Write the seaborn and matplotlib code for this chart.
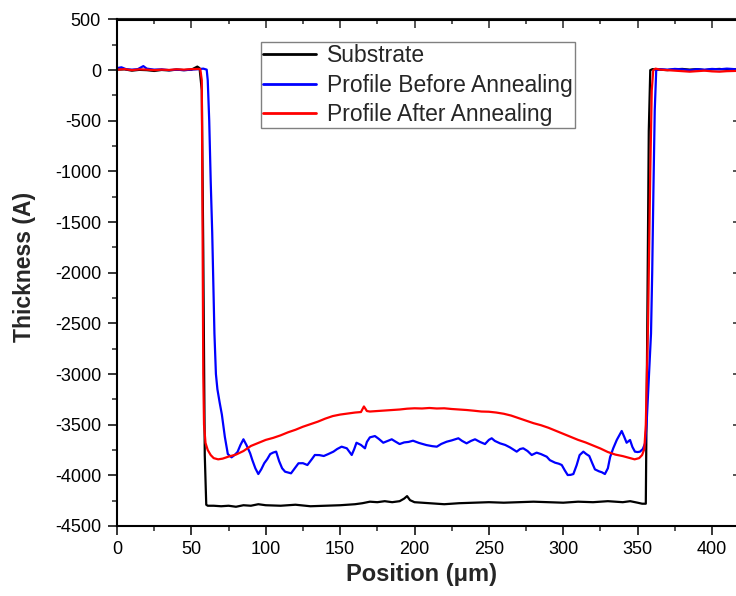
import numpy as np
import pandas as pd
import matplotlib
matplotlib.use("Agg")
import matplotlib.pyplot as plt
import seaborn as sns
from matplotlib.ticker import MultipleLocator

# ---------------- data ----------------
sub_x = [0, 5, 10, 15, 20, 25, 30, 35, 40, 45, 50, 54, 55.5, 57, 58, 59, 60, 61, 65, 70, 75, 80, 85, 90,
         95, 100, 110, 120, 130, 140, 150, 160, 165, 170, 175, 180, 185, 190, 193, 195, 197, 200, 210, 220,
         230, 240, 250, 260, 270, 280, 290, 300, 310, 320, 330, 335, 340, 345, 350, 353, 355.5, 356.5,
         357.5, 358.5, 360, 365, 370, 375, 380, 385, 390, 395, 400, 405, 410, 415, 420]
sub_y = [5, 8, -5, 3, 0, -8, 2, -3, 5, 0, 5, 35, 20, -200, -1800, -3800, -4290, -4300, -4300, -4305,
         -4300, -4310, -4295, -4300, -4285, -4295, -4300, -4290, -4305, -4300, -4295, -4285, -4275, -4260,
         -4265, -4255, -4265, -4255, -4230, -4205, -4245, -4265, -4275, -4285, -4275, -4270, -4265, -4270,
         -4265, -4260, -4265, -4270, -4260, -4265, -4255, -4260, -4265, -4255, -4270, -4280, -4280, -2500,
         -600, 0, 10, 5, 0, 8, 12, 5, 10, 0, 8, 12, 5, 10, 8]

before_x = [0, 3, 6, 10, 14, 17.7, 20, 25, 30, 35, 40, 45, 50, 55, 58, 60.3, 61, 62, 63, 64, 65, 65.5,
            66.5, 67.5, 69, 70.5, 72.5, 74.5, 77, 79, 81, 83, 85, 87, 89.5, 91, 93, 95, 97, 99, 101, 103,
            105, 107, 109, 111, 113, 117, 120, 122, 125, 128, 131, 133, 136, 139, 142, 145.5, 148, 151,
            154.5, 157.8, 159.5, 161, 164, 166.7, 168, 170, 173.4, 176, 179, 182, 184.7, 187, 190, 193,
            196, 199, 203, 208, 212, 215, 218, 221.6, 225, 229.5, 232, 235, 238, 240.7, 244, 247.4, 250,
            251.9, 254, 257.5, 261, 264.2, 266.5, 268.7, 271, 273.1, 276, 278.8, 282.1, 285, 288.9, 291,
            294.5, 297, 299, 301, 303, 305, 306.8, 309, 311, 313.5, 315.5, 317.5, 319.5, 321.3, 324, 326,
            328, 330, 331.5, 333.6, 336, 339.3, 341, 342.6, 344.9, 346.5, 348.2, 350, 351.6, 353.5, 355,
            356, 357, 358, 359, 359.8, 360.6, 361.5, 362.5, 365, 370, 375, 380, 385, 390, 395, 400, 405,
            410, 415, 420]
before_y = [20, 28, 10, 5, 10, 40, 15, 5, 8, 0, 5, 0, 5, 10, 15, 5, -100, -500, -1100, -1600, -2300,
            -2600, -3000, -3150, -3280, -3400, -3620, -3790, -3822, -3800, -3770, -3700, -3644, -3700,
            -3782, -3850, -3930, -3987, -3940, -3880, -3840, -3790, -3775, -3766, -3860, -3930, -3964,
            -3980, -3920, -3881, -3880, -3898, -3840, -3799, -3800, -3809, -3790, -3766, -3740, -3717,
            -3733, -3799, -3740, -3678, -3700, -3733, -3670, -3625, -3612, -3640, -3678, -3660, -3644,
            -3665, -3691, -3675, -3670, -3658, -3680, -3701, -3712, -3717, -3690, -3668, -3655, -3634,
            -3660, -3684, -3660, -3644, -3670, -3691, -3650, -3634, -3660, -3684, -3700, -3724, -3745,
            -3766, -3740, -3733, -3760, -3799, -3776, -3790, -3816, -3850, -3875, -3885, -3898, -3950,
            -3997, -3995, -3987, -3900, -3800, -3766, -3790, -3809, -3880, -3941, -3960, -3970, -3987,
            -3930, -3820, -3733, -3650, -3562, -3620, -3678, -3651, -3720, -3766, -3770, -3766, -3740,
            -3684, -3500, -3200, -2900, -2600, -2000, -1200, -400, 0, 10, 5, 12, 8, 0, 10, 5, 12, 8, 15,
            10, 12]

after_x = [0, 5, 10, 15, 20, 25, 30, 35, 40, 45, 50, 55, 56, 57, 57.5, 58, 58.5, 59.5, 61, 63, 65, 68,
           71, 75, 80, 85, 90, 95, 100, 105, 110, 115, 120, 125, 130, 135, 140, 145, 150, 155, 160, 164,
           166, 168, 170, 175, 180, 185, 190, 195, 200, 205, 210, 215, 220, 225, 230, 235, 240, 245, 250,
           255, 260, 265, 270, 275, 280, 285, 290, 295, 300, 305, 310, 315, 320, 325, 330, 335, 340, 345,
           348, 351, 353, 354.5, 355.5, 357, 358.5, 359.5, 360.5, 362, 365, 370, 375, 380, 385, 390, 395,
           400, 405, 410, 415, 420]
after_y = [5, 10, 0, 8, 5, 0, 5, 2, 8, 5, 10, 12, 10, -100, -1500, -3000, -3500, -3680, -3750, -3800,
           -3830, -3842, -3835, -3815, -3795, -3760, -3710, -3680, -3650, -3630, -3605, -3575, -3550,
           -3520, -3495, -3470, -3440, -3415, -3400, -3390, -3380, -3375, -3320, -3365, -3370, -3365,
           -3360, -3355, -3350, -3342, -3338, -3340, -3335, -3340, -3338, -3345, -3350, -3355, -3362,
           -3370, -3372, -3380, -3392, -3410, -3435, -3460, -3485, -3505, -3530, -3560, -3590, -3620,
           -3650, -3675, -3705, -3735, -3770, -3795, -3810, -3830, -3842, -3830, -3800, -3740, -3500,
           -2500, -1000, -200, 0, 15, 5, 0, -5, -10, -15, -10, -5, -12, -15, -10, -8, -5]

labels = ["Substrate", "Profile Before Annealing", "Profile After Annealing"]
colors = ["#000000", "#0000ff", "#ff0000"]

# ---------------- figure ----------------
sns.set_style("ticks")
plt.rcParams["font.family"] = ["Liberation Sans", "DejaVu Sans"]
plt.rcParams["axes.unicode_minus"] = False

fig = plt.figure(figsize=(7.36, 5.96), dpi=100)
ax = fig.add_axes([117 / 736, 70 / 596, 624.75 / 736, 506.5 / 596])

frames = [
    pd.DataFrame({"x": sub_x, "y": sub_y, "s": labels[0]}),
    pd.DataFrame({"x": before_x, "y": before_y, "s": labels[1]}),
    pd.DataFrame({"x": after_x, "y": after_y, "s": labels[2]}),
]
for df, lab, col in zip(frames, labels, colors):
    sns.lineplot(data=df, x="x", y="y", ax=ax, color=col, linewidth=1.6, label=lab,
                 sort=False, estimator=None)

ax.set_xlim(0, 420)
ax.set_ylim(-4500, 500)
ax.xaxis.set_major_locator(MultipleLocator(50))
ax.xaxis.set_minor_locator(MultipleLocator(25))
ax.yaxis.set_major_locator(MultipleLocator(500))
ax.yaxis.set_minor_locator(MultipleLocator(250))
ax.set_xticks([0, 50, 100, 150, 200, 250, 300, 350, 400])

for sp in ax.spines.values():
    sp.set_linewidth(1.5)
    sp.set_color("black")
ax.tick_params(which="major", direction="out", length=6.5, width=1.1, labelsize=13, colors="black")
ax.tick_params(which="minor", direction="out", length=3.6, width=1.1)
ax.tick_params(axis="y", which="major", pad=5)
ax.tick_params(axis="x", which="major", pad=4)

secx = ax.secondary_xaxis("top")
secx.xaxis.set_major_locator(MultipleLocator(50))
secx.xaxis.set_minor_locator(MultipleLocator(25))
secx.tick_params(which="major", direction="in", length=6.5, width=1.1, labeltop=False)
secx.tick_params(which="minor", direction="in", length=3.6, width=1.1)
secx.spines["top"].set_linewidth(1.5)

secy = ax.secondary_yaxis("right")
secy.yaxis.set_major_locator(MultipleLocator(500))
secy.yaxis.set_minor_locator(MultipleLocator(250))
secy.tick_params(which="major", direction="in", length=6.5, width=1.1, labelright=False)
secy.tick_params(which="minor", direction="in", length=3.6, width=1.1)
secy.spines["right"].set_linewidth(1.5)

ax.set_xlabel("Position (\u03bcm)", fontsize=17, fontweight="bold")
ax.set_ylabel("Thickness (A)", fontsize=16.5, fontweight="bold")
ax.xaxis.set_label_coords(0.4866, -0.074)
ax.yaxis.set_label_coords(-0.1297, 0.5114)

leg = ax.legend(loc="upper left", bbox_to_anchor=(261 / 736, 1 - 42 / 596),
                bbox_transform=fig.transFigure, fontsize=16.5, frameon=True, fancybox=False,
                edgecolor="#808080", framealpha=1, borderaxespad=0, borderpad=0.1,
                labelspacing=0.28, handlelength=2.3, handletextpad=0.48)
leg.get_frame().set_linewidth(1.0)
for h in leg.get_lines():
    h.set_linewidth(2.0)

fig.savefig("out.png", dpi=100)
